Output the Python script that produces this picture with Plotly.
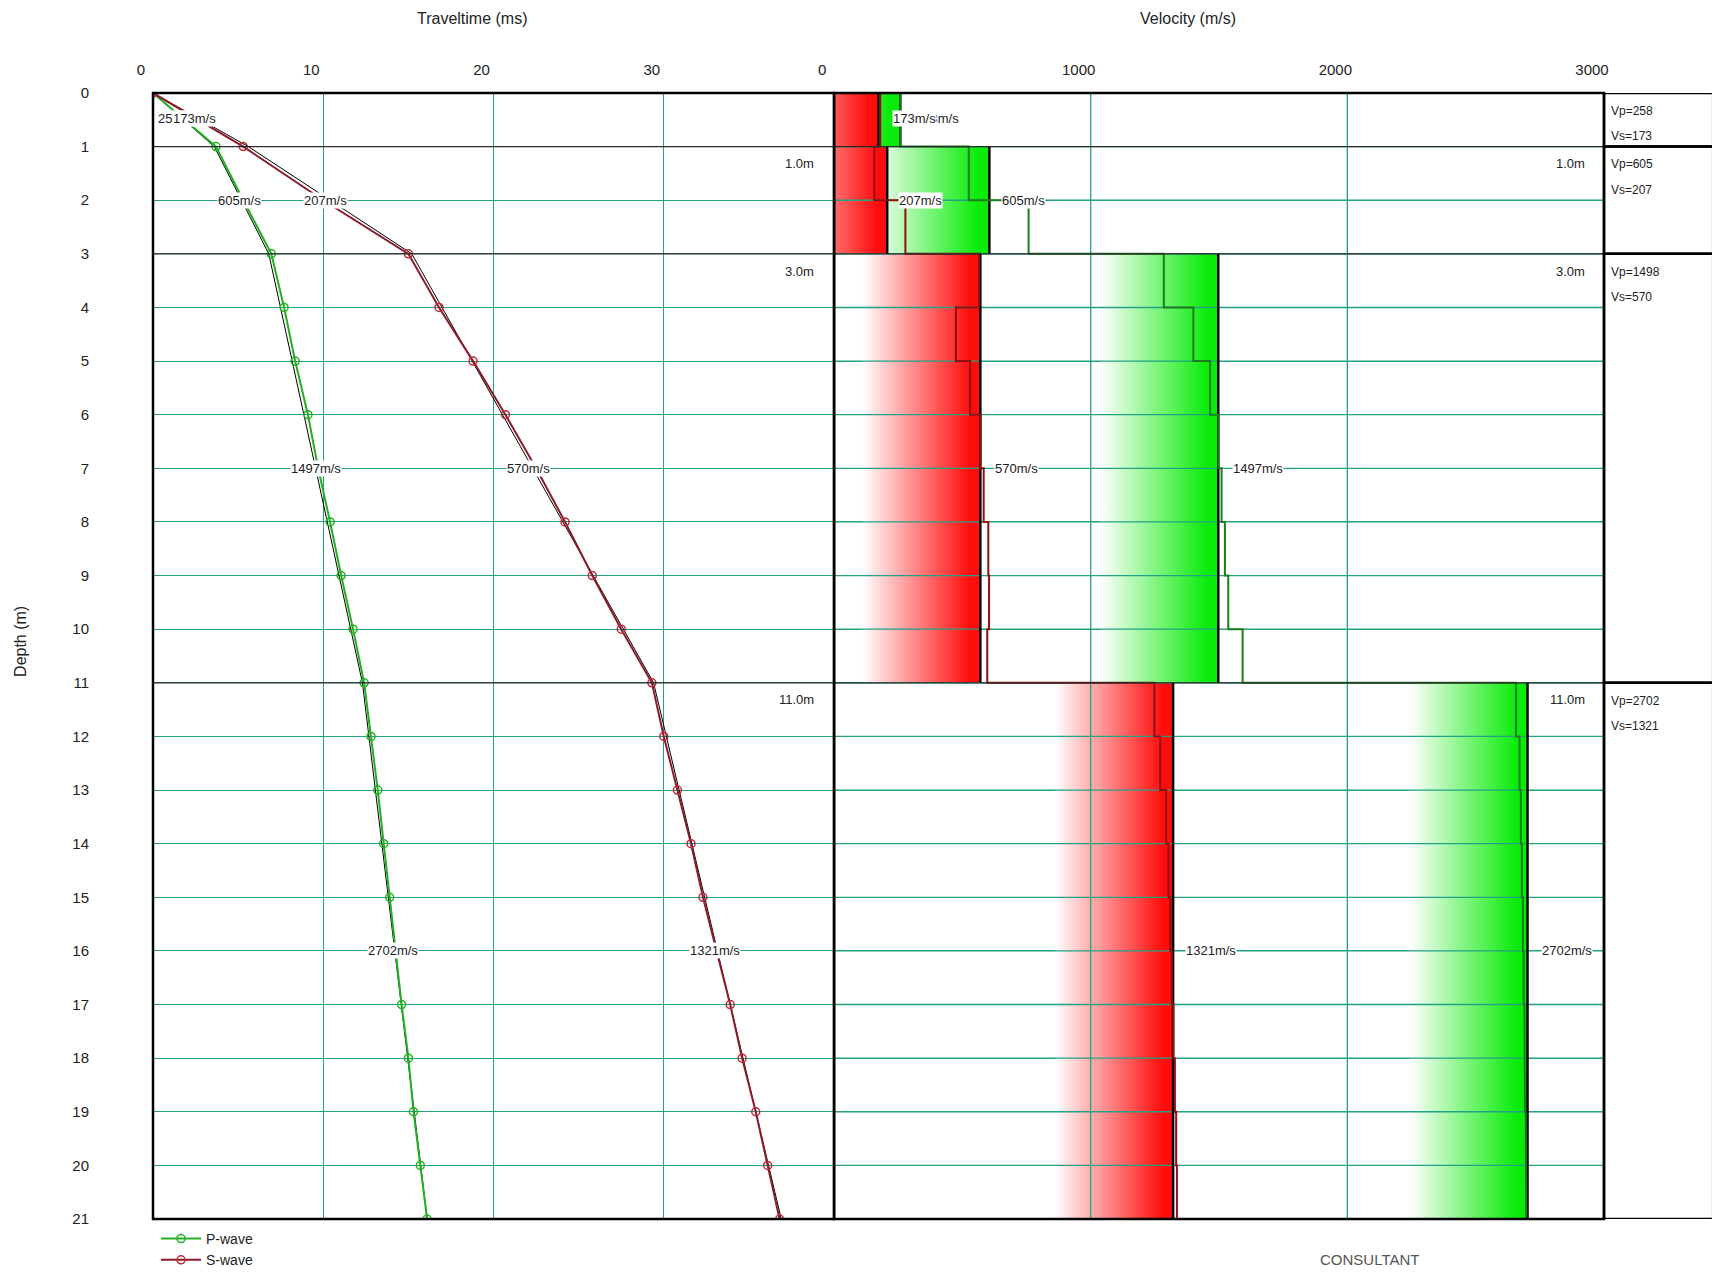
import plotly.graph_objects as go

# ---- data ----
depth_m = list(range(22))
p_time_ms = [0, 3.7, 5.3, 6.95, 7.7, 8.35, 9.1, 9.7, 10.4, 11.05, 11.75, 12.4,
             12.8, 13.2, 13.55, 13.9, 14.25, 14.6, 15.0, 15.3, 15.7, 16.1]
s_time_ms = [0, 5.3, 10.0, 15.0, 16.8, 18.8, 20.7, 22.5, 24.2, 25.8, 27.5, 29.3,
             30.0, 30.8, 31.6, 32.3, 33.1, 33.9, 34.6, 35.4, 36.1, 36.8]

model_depth_m = [0, 1, 3, 11, 21]
p_model_ms = [0, 3.6, 6.8, 12.3, 16.1]
s_model_ms = [0, 5.6, 15.2, 29.4, 36.9]

layer_top_m = [0, 1, 3, 11]
layer_bot_m = [1, 3, 11, 21]
layer_vp = [258, 605, 1497, 2702]
layer_vs = [173, 207, 570, 1321]
table_vp = [258, 605, 1498, 2702]
table_vs = [173, 207, 570, 1321]

# interval velocities for each 1 m step (0-1, 1-2, ... 20-21)
vp_interval = [258, 525, 758, 1285, 1400, 1465, 1498, 1510, 1523, 1536, 1592,
               2657, 2671, 2676, 2680, 2684, 2687, 2690, 2692, 2695, 2697]
vs_interval = [180, 157, 278, 565, 475, 530, 570, 583, 601, 604, 597,
               1248, 1271, 1294, 1303, 1310, 1316, 1322, 1328, 1333, 1336]

time_ticks = [0, 10, 20, 30]
vel_ticks = [0, 1000, 2000, 3000]
depth_ticks = list(range(22))

# ---- geometry helpers (page pixels; the page body adds an 8px offset) ----
OFF = 8
W, H = 1712, 1262
ML, MR, MT, MB = 144.5, 116.2, 85.2, 51.2
PW, PH = W - ML - MR, H - MT - MB


def px(x):
    return (x - OFF - ML) / PW


def py(y):
    return 1 - (y - OFF - MT) / PH


SPLIT = px(833.7)
GRID = "#22a283"
FONT = "Liberation Sans, Arial, sans-serif"
P_COL, S_COL = "#22b022", "#8b1a2a"
GRAD, FULL = 460, 40

fig = go.Figure()

# velocity bars with gradient fill
for top, bot, vs, vp in zip(layer_top_m, layer_bot_m, layer_vs, layer_vp):
    x0 = max(0, vs - GRAD)
    fig.add_trace(go.Scatter(
        x=[x0, vs, vs, x0, x0], y=[top, top, bot, bot, top],
        xaxis="x2", yaxis="y", mode="lines", line=dict(width=0, color="rgba(0,0,0,0)"),
        fill="toself",
        fillgradient=dict(type="horizontal", colorscale=[[0, "#ffffff"], [1, "#ff0d0d"]],
                          start=vs - GRAD, stop=vs - FULL),
        hoverinfo="skip", showlegend=False))
    g0 = max(vs, vp - GRAD)
    fig.add_trace(go.Scatter(
        x=[g0, vp, vp, g0, g0], y=[top, top, bot, bot, top],
        xaxis="x2", yaxis="y", mode="lines", line=dict(width=0, color="rgba(0,0,0,0)"),
        fill="toself",
        fillgradient=dict(type="horizontal", colorscale=[[0, "#ffffff"], [1, "#08ec08"]],
                          start=vp - GRAD, stop=vp - FULL),
        hoverinfo="skip", showlegend=False))

# grid over the bars
gx, gy = [], []
for d in depth_ticks:
    gx += [vel_ticks[0], vel_ticks[-1], None]
    gy += [d, d, None]
for v in vel_ticks[1:-1]:
    gx += [v, v, None]
    gy += [depth_ticks[0], depth_ticks[-1], None]
fig.add_trace(go.Scatter(x=gx, y=gy, xaxis="x2", yaxis="y", mode="lines",
                         line=dict(color=GRID, width=1.3), hoverinfo="skip", showlegend=False))

# black right edges of each layer bar
ex, ey = [], []
for top, bot, vs, vp in zip(layer_top_m, layer_bot_m, layer_vs, layer_vp):
    ex += [vs, vs, None, vp, vp, None]
    ey += [top, bot, None, top, bot, None]
fig.add_trace(go.Scatter(x=ex, y=ey, xaxis="x2", yaxis="y", mode="lines",
                         line=dict(color="black", width=2.5), hoverinfo="skip", showlegend=False))

# interval velocity steps
for vals, col in ((vs_interval, "#8e1010"), (vp_interval, "#1c7d1c")):
    sx, sy = [], []
    for i, v in enumerate(vals):
        sx += [v, v]
        sy += [depth_m[i], depth_m[i + 1]]
    fig.add_trace(go.Scatter(x=sx, y=sy, xaxis="x2", yaxis="y", mode="lines",
                             line=dict(color=col, width=2), hoverinfo="skip", showlegend=False))

# traveltime: model lines then observed curves
for t in (p_model_ms, s_model_ms):
    fig.add_trace(go.Scatter(x=t, y=model_depth_m, mode="lines",
                             line=dict(color="black", width=1), hoverinfo="skip", showlegend=False))
fig.add_trace(go.Scatter(x=p_time_ms, y=depth_m, mode="lines+markers", name="P-wave",
                         line=dict(color=P_COL, width=2),
                         marker=dict(symbol="circle-open", size=8, color=P_COL, line=dict(width=1.5))))
fig.add_trace(go.Scatter(x=s_time_ms, y=depth_m, mode="lines+markers", name="S-wave",
                         line=dict(color=S_COL, width=2),
                         marker=dict(symbol="circle-open", size=8, color="#c0283a", line=dict(width=1.5))))

# ---- shapes ----
shapes = []
for d in layer_top_m[1:]:
    shapes.append(dict(type="line", xref="paper", yref="y", x0=0, x1=1, y0=d, y1=d,
                       line=dict(color="#2a2a2a", width=1.3), layer="above"))
shapes.append(dict(type="rect", xref="paper", yref="paper", x0=0, x1=SPLIT, y0=0, y1=1,
                   line=dict(color="black", width=2.5), layer="above"))
shapes.append(dict(type="rect", xref="paper", yref="paper", x0=SPLIT, x1=1, y0=0, y1=1,
                   line=dict(color="black", width=2.5), layer="above"))
for top, bot in zip(layer_top_m, layer_bot_m):
    shapes.append(dict(type="rect", xref="paper", yref="y", x0=1, x1=px(1713), y0=top, y1=bot,
                       line=dict(color="black", width=2.5), layer="above"))

# ---- annotations ----
ann = []


def label(text, x, y, xref="x", xanchor="center", size=13, bg="white", color="#222"):
    ann.append(dict(text=text, x=x, y=y, xref=xref, yref="y", showarrow=False,
                    xanchor=xanchor, yanchor="middle", bgcolor=bg, borderpad=0,
                    font=dict(size=size, color=color, family=FONT)))


# velocity labels on traveltime curves (P first, S drawn on top)
for txt, x, y in (("258m/s", 1.54, 0.47), ("605m/s", 5.08, 2), ("1497m/s", 9.58, 7),
                  ("2702m/s", 14.08, 16)):
    label(txt, x, y)
for txt, x, y in (("173m/s", 2.44, 0.47), ("207m/s", 10.16, 2), ("570m/s", 22.06, 7),
                  ("1321m/s", 32.99, 16)):
    label(txt, x, y)
# velocity labels in velocity panel
for txt, x, y in (("258m/s", 405, 0.47), ("605m/s", 739, 2), ("1497m/s", 1650, 7),
                  ("2702m/s", 2855, 16)):
    label(txt, x, y, xref="x2")
for txt, x, y in (("173m/s", 312, 0.47), ("207m/s", 338, 2), ("570m/s", 709, 7),
                  ("1321m/s", 1470, 16)):
    label(txt, x, y, xref="x2")

# layer depth tags
for top in layer_top_m[1:]:
    label(f"{top:.1f}m", 38.9, top + 0.32, xanchor="right", bg=None)
    label(f"{top:.1f}m", 2930, top + 0.32, xref="x2", xanchor="right", bg=None)

# table column
for top, vp, vs in zip(layer_top_m, table_vp, table_vs):
    ann.append(dict(text=f"Vp={vp}", x=px(1609), y=top + 0.33, xref="paper", yref="y",
                    showarrow=False, xanchor="left", yanchor="middle",
                    font=dict(size=12, color="#222", family=FONT)))
    ann.append(dict(text=f"Vs={vs}", x=px(1609), y=top + 0.81, xref="paper", yref="y",
                    showarrow=False, xanchor="left", yanchor="middle",
                    font=dict(size=12, color="#222", family=FONT)))

# titles
ann.append(dict(text="Traveltime (ms)", x=px(471.7), y=py(18.6), xref="paper", yref="paper",
                showarrow=False, xanchor="center", yanchor="middle",
                font=dict(size=16, color="#222", family=FONT)))
ann.append(dict(text="Velocity (m/s)", x=px(1188), y=py(18.6), xref="paper", yref="paper",
                showarrow=False, xanchor="center", yanchor="middle",
                font=dict(size=16, color="#222", family=FONT)))
ann.append(dict(text="Depth (m)", x=px(19.7), y=py(641.7), xref="paper", yref="paper",
                showarrow=False, textangle=-90, xanchor="center", yanchor="middle",
                font=dict(size=16, color="#222", family=FONT)))
ann.append(dict(text="CONSULTANT", x=px(1369), y=py(1259), xref="paper", yref="paper",
                showarrow=False, xanchor="center", yanchor="middle",
                font=dict(size=15, color="#555", family=FONT)))

fig.update_layout(
    width=W, height=H,
    margin=dict(l=ML, r=MR, t=MT, b=MB, autoexpand=False),
    paper_bgcolor="white", plot_bgcolor="white",
    font=dict(family=FONT, size=15, color="#222"),
    xaxis=dict(domain=[0, SPLIT], range=[0, 40], side="top", anchor="y",
               tickvals=time_ticks, showgrid=True, gridcolor=GRID, gridwidth=1.3,
               zeroline=False, showline=False, ticks="", ticklabelstandoff=14,
               ticklabelshift=-12, fixedrange=True, automargin=False),
    xaxis2=dict(domain=[SPLIT, 1], range=[0, 3000], side="top", anchor="y",
                tickvals=vel_ticks, showgrid=False, zeroline=False, showline=False,
                ticks="", ticklabelstandoff=14, ticklabelshift=-12, fixedrange=True,
                automargin=False),
    yaxis=dict(domain=[0, 1], range=[21, 0], anchor="x", tickvals=depth_ticks,
               showgrid=True, gridcolor=GRID, gridwidth=1.3, zeroline=False,
               showline=False, ticks="", ticklabelstandoff=63, fixedrange=True,
               automargin=False),
    showlegend=True,
    legend=dict(xref="container", yref="container", x=(156 - OFF) / W, y=1 - (1223 - OFF) / H,
                xanchor="left", yanchor="top",
                bgcolor="rgba(0,0,0,0)", font=dict(size=14, color="#222"),
                tracegroupgap=0, itemwidth=40),
    shapes=shapes,
    annotations=ann,
    hovermode=False,
)

fig.write_html("out.html")
